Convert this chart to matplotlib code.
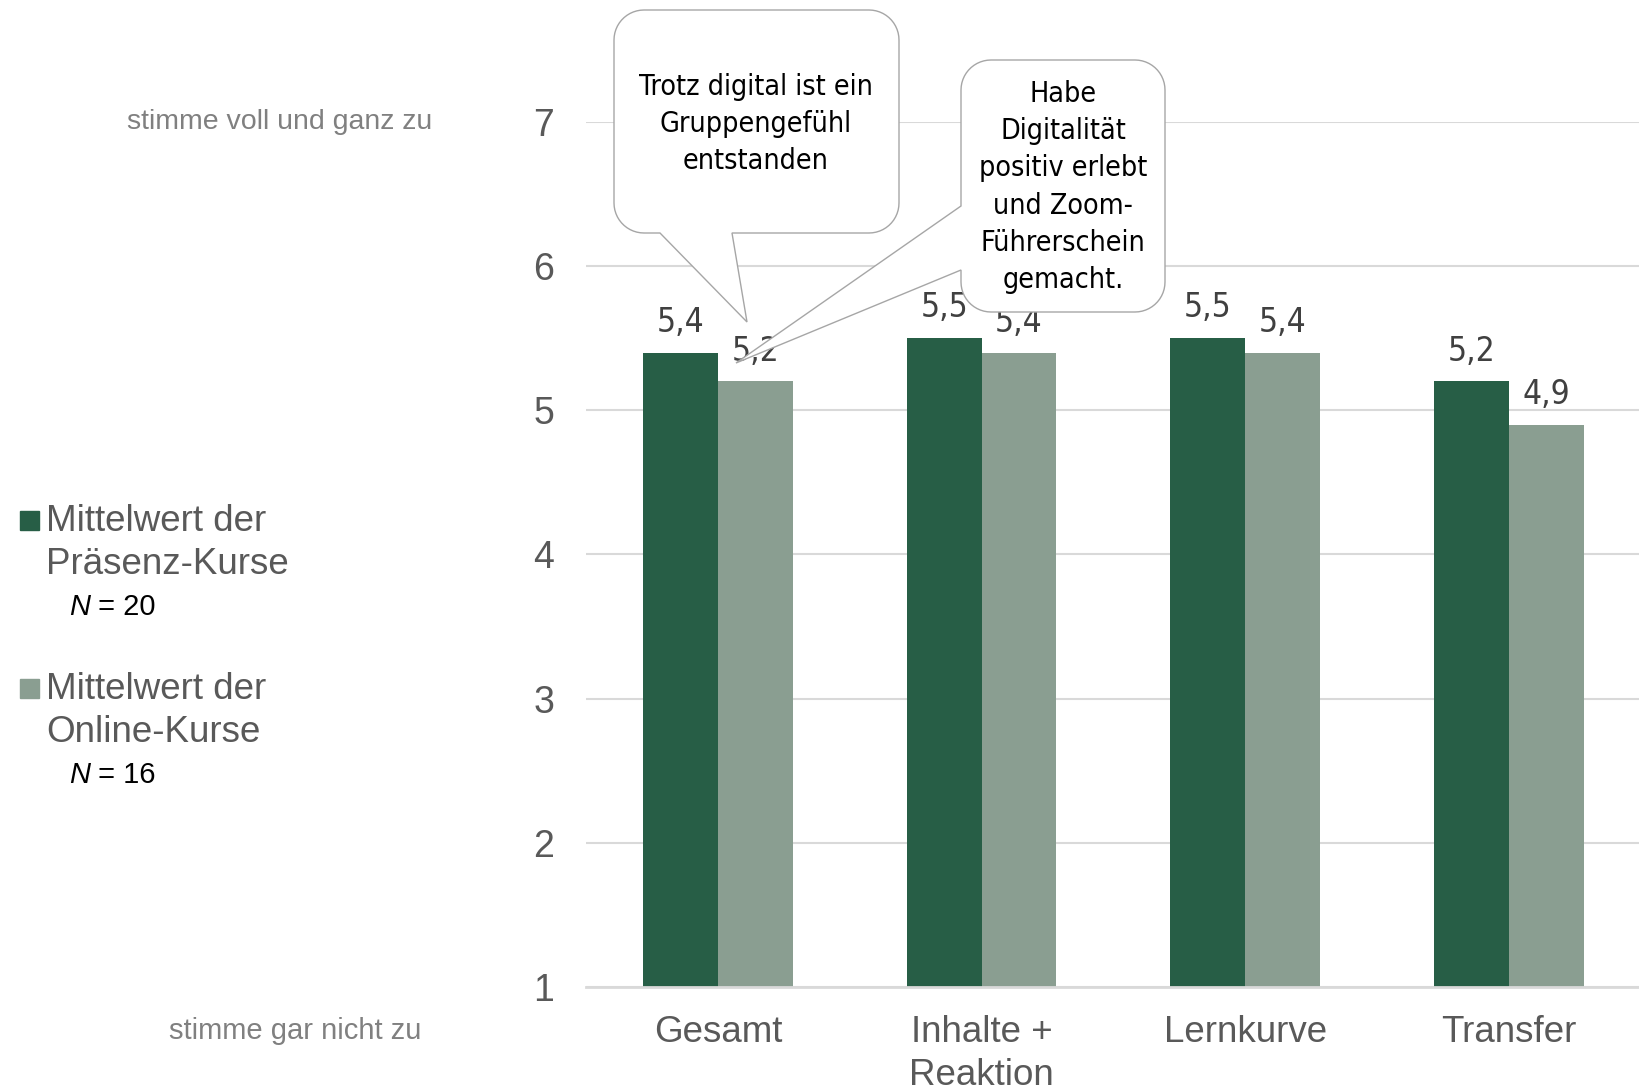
import matplotlib
matplotlib.use('Agg')
import matplotlib.pyplot as plt
from matplotlib import font_manager as fm
from matplotlib.patches import Polygon, Rectangle
from matplotlib.transforms import Affine2D
import numpy as np

# ---------------- data ----------------
categories = ['Gesamt', 'Inhalte +\nReaktion', 'Lernkurve', 'Transfer']
praesenz = [5.4, 5.5, 5.5, 5.2]
online = [5.2, 5.4, 5.4, 4.9]
series_names = ['Mittelwert der\nPräsenz-Kurse', 'Mittelwert der\nOnline-Kurse']
series_n = [20, 16]
yticks = [1, 2, 3, 4, 5, 6, 7]
scale_top = 'stimme voll und ganz zu'
scale_bottom = 'stimme gar nicht zu'
callout1 = 'Trotz digital ist ein\nGruppengefühl\nentstanden'
callout2 = 'Habe\nDigitalität\npositiv erlebt\nund Zoom-\nFührerschein\ngemacht.'

colors = ['#275E46', '#8A9E91']

# ---------------- fonts ----------------
names = {f.name for f in fm.fontManager.ttflist}
sans = 'Liberation Sans' if 'Liberation Sans' in names else 'DejaVu Sans'
if 'Liberation Sans Narrow' in names:
    narrow = dict(family='Liberation Sans Narrow')
elif any(f.name == 'DejaVu Sans' and str(f.stretch) == 'condensed' for f in fm.fontManager.ttflist):
    narrow = dict(family='DejaVu Sans', stretch='condensed')
else:
    narrow = dict(family='Roboto')

W, H = 1640, 1090
fig = plt.figure(figsize=(W / 100, H / 100), dpi=100)
px = Affine2D().scale(1 / W, -1 / H).translate(0, 1) + fig.transFigure

# ---------------- axes ----------------
ax = fig.add_axes([586 / W, 1 - 987 / H, (W - 586) / W, (987 - 122) / H])
x = np.arange(len(categories))
w = 0.284
b1 = ax.bar(x - w / 2, praesenz, w, color=colors[0], zorder=2)
b2 = ax.bar(x + w / 2, online, w, color=colors[1], zorder=2)
fmt = lambda v: f'{v:.1f}'.replace('.', ',')
for bars in (b1, b2):
    ax.bar_label(bars, fmt=fmt, padding=10, fontsize=24, color='#404040', **narrow)

ax.set_xlim(-0.5, -0.5 + (W - 586) / 263.7)
ax.set_ylim(1, 7)
ax.set_yticks(yticks)
ax.set_xticks(x)
ax.set_xticklabels(categories, fontfamily=sans, fontsize=26.5, color='#595959', linespacing=1.3)
for lab in ax.get_yticklabels():
    lab.set_fontfamily(sans)
ax.tick_params(axis='y', length=0, pad=23, labelsize=27, labelcolor='#595959')
ax.tick_params(axis='x', length=0, pad=20)
ax.yaxis.grid(True, color='#D9D9D9', lw=1.5, zorder=0)
ax.set_axisbelow(True)
for s in ['left', 'right', 'top']:
    ax.spines[s].set_visible(False)
ax.spines['bottom'].set_color('#D9D9D9')
ax.spines['bottom'].set_linewidth(2)

# ---------------- scale texts ----------------
fig.text(432, 122, scale_top, transform=px, ha='right', va='center',
         fontsize=20.5, color='#808080', family=sans)
fig.text(421, 1031, scale_bottom, transform=px, ha='right', va='center',
         fontsize=21, color='#808080', family=sans)

# ---------------- legend ----------------
leg_y = [543, 711]
for i, (name, n) in enumerate(zip(series_names, series_n)):
    y = leg_y[i]
    fig.add_artist(Rectangle((20, y - 32), 19, 19, transform=px, color=colors[i]))
    fig.text(46, y, name, transform=px, ha='left', va='center', fontsize=26.5,
             color='#595959', family=sans, linespacing=1.3)
    t = fig.text(69, y + 64, 'N', transform=px, ha='left', va='center', fontsize=21,
                 style='italic', color='black', family=sans)
    ax.annotate(f' = {n}', xy=(1, 0), xycoords=t, ha='left', va='bottom',
                fontsize=21, color='black', family=sans, annotation_clip=False)


# ---------------- callouts ----------------
def callout_pts(x0, y0, x1, y1, r, edge, a, b, tip, n=14):
    pts = []

    def arc(cx, cy, t0, t1):
        for t in np.linspace(np.radians(t0), np.radians(t1), n):
            pts.append((cx + r * np.cos(t), cy + r * np.sin(t)))

    arc(x1 - r, y0 + r, -90, 0)
    arc(x1 - r, y1 - r, 0, 90)
    if edge == 'bottom':
        pts.extend([(b, y1), tip, (a, y1)])
    arc(x0 + r, y1 - r, 90, 180)
    if edge == 'left':
        pts.extend([(x0, b), tip, (x0, a)])
    arc(x0 + r, y0 + r, 180, 270)
    return pts


p1 = callout_pts(614, 10, 899, 233, 30, 'bottom', 660, 732, (747, 322))
p2 = callout_pts(961, 60, 1165, 312, 30, 'left', 206, 270, (736, 363))
for p in (p1, p2):
    fig.add_artist(Polygon(p, closed=True, transform=px, facecolor='white',
                           edgecolor='#A6A6A6', lw=1.0, zorder=5))
fig.text(756, 124, callout1, transform=px, ha='center', va='center', multialignment='center',
         fontsize=20.5, color='black', zorder=6, linespacing=1.42, **narrow)
fig.text(1063, 187, callout2, transform=px, ha='center', va='center', multialignment='center',
         fontsize=20.5, color='black', zorder=6, linespacing=1.42, **narrow)

fig.savefig('out.png', dpi=100)
